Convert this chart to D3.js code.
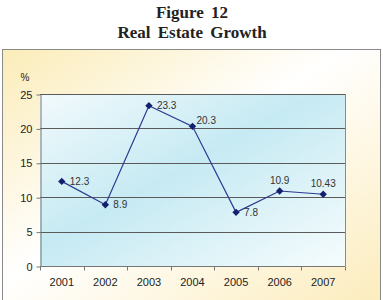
<!DOCTYPE html>
<html lang="en">
<head>
    <meta charset="UTF-8">
    <title>real-estate-growth</title>
    <script src="https://cdn.jsdelivr.net/npm/d3@7.8.5/dist/d3.min.js"></script>
    <style>
        body { margin: 0; background: #fff; }
    </style>
</head>
<body>
<div id="container"></div>
<script>
    const years = ["2001", "2002", "2003", "2004", "2005", "2006", "2007"];
    const growth = [12.3, 8.9, 23.3, 20.3, 7.8, 10.9, 10.43];
    const growthLabels = ["12.3", "8.9", "23.3", "20.3", "7.8", "10.9", "10.43"];
    const yTicks = [0, 5, 10, 15, 20, 25];

    // label placement per point (Excel style)
    const labelPlace = ["right", "right", "right", "upright", "right", "above", "above"];

    const width = 383, height = 300;
    const plot = {left: 40, top: 94, right: 345, bottom: 266};

    const svg = d3.select("#container").append("svg")
        .attr("width", width)
        .attr("height", height);

    const defs = svg.append("defs");
    const outerGrad = defs.append("linearGradient")
        .attr("id", "outerGrad")
        .attr("x1", "0").attr("y1", "0").attr("x2", "1").attr("y2", "1");
    outerGrad.append("stop").attr("offset", "0").attr("stop-color", "#fbecb8");
    outerGrad.append("stop").attr("offset", "0.45").attr("stop-color", "#ffffff");
    outerGrad.append("stop").attr("offset", "1").attr("stop-color", "#fcecbb");

    const plotGrad = defs.append("linearGradient")
        .attr("id", "plotGrad")
        .attr("x1", "0").attr("y1", "0").attr("x2", "1").attr("y2", "1");
    plotGrad.append("stop").attr("offset", "0").attr("stop-color", "#f2fafc");
    plotGrad.append("stop").attr("offset", "0.45").attr("stop-color", "#c6eaf3");
    plotGrad.append("stop").attr("offset", "1").attr("stop-color", "#f6fcfd");

    // title
    const title = svg.append("g")
        .attr("font-family", "'Liberation Serif', 'Times New Roman', serif")
        .attr("font-weight", "bold")
        .attr("font-size", 17)
        .attr("fill", "#222")
        .attr("text-anchor", "middle")
        .style("word-spacing", "3px");
    title.append("text").attr("x", 192).attr("y", 18).text("Figure 12");
    title.append("text").attr("x", 192).attr("y", 38).text("Real Estate Growth");

    // chart area
    svg.append("rect")
        .attr("x", 2.5).attr("y", 49.5)
        .attr("width", 378).attr("height", 260)
        .attr("fill", "url(#outerGrad)")
        .attr("stroke", "#8a8a8a");

    svg.append("rect")
        .attr("x", plot.left).attr("y", plot.top)
        .attr("width", plot.right - plot.left).attr("height", plot.bottom - plot.top)
        .attr("fill", "url(#plotGrad)");

    const x = d3.scaleBand().domain(years).range([plot.left, plot.right]);
    const y = d3.scaleLinear().domain([0, 25]).range([plot.bottom, plot.top]);

    // gridlines
    svg.append("g").selectAll("line")
        .data(yTicks.filter(d => d > 0))
        .join("line")
        .attr("x1", plot.left).attr("x2", plot.right)
        .attr("y1", d => Math.round(y(d)) + 0.5).attr("y2", d => Math.round(y(d)) + 0.5)
        .attr("stroke", "#5a5a5a");

    // plot border (right)
    svg.append("line")
        .attr("x1", plot.right + 0.5).attr("x2", plot.right + 0.5)
        .attr("y1", plot.top).attr("y2", plot.bottom)
        .attr("stroke", "#8a8a8a");

    // y axis
    const yAxis = svg.append("g")
        .attr("transform", `translate(${plot.left + 0.5},0.5)`)
        .call(d3.axisLeft(y).tickValues(yTicks).tickSize(4).tickSizeOuter(0).tickPadding(4));
    yAxis.selectAll("text")
        .attr("font-family", "'Liberation Sans', Arial, sans-serif")
        .attr("font-size", 11).attr("fill", "#222");
    yAxis.selectAll("line, path").attr("stroke", "#777");

    // x axis: ticks between categories
    const xAxis = svg.append("g")
        .attr("transform", `translate(0,${Math.round(y(0)) + 0.5})`);
    xAxis.append("line")
        .attr("x1", plot.left).attr("x2", plot.right)
        .attr("stroke", "#777");
    xAxis.selectAll(".tk")
        .data(years.concat(["end"]))
        .join("line")
        .attr("class", "tk")
        .attr("x1", (d, i) => Math.round(plot.left + i * x.step()) + 0.5)
        .attr("x2", (d, i) => Math.round(plot.left + i * x.step()) + 0.5)
        .attr("y1", 0).attr("y2", 4)
        .attr("stroke", "#777");
    xAxis.selectAll("text")
        .data(years)
        .join("text")
        .attr("x", d => x(d) + x.bandwidth() / 2)
        .attr("y", 19)
        .attr("text-anchor", "middle")
        .attr("font-family", "'Liberation Sans', Arial, sans-serif")
        .attr("font-size", 11).attr("fill", "#222")
        .text(d => d);

    // unit label
    svg.append("text")
        .attr("x", 25).attr("y", 81)
        .attr("text-anchor", "middle")
        .attr("font-family", "'Liberation Sans', Arial, sans-serif")
        .attr("font-size", 10).attr("fill", "#222")
        .text("%");

    // line
    const cx = (d, i) => x(years[i]) + x.bandwidth() / 2;
    const line = d3.line()
        .x((d, i) => cx(d, i))
        .y(d => y(d));
    svg.append("path")
        .datum(growth)
        .attr("d", line)
        .attr("fill", "none")
        .attr("stroke", "#2a3a8f")
        .attr("stroke-width", 1.2);

    // diamond markers
    svg.append("g").selectAll("path")
        .data(growth)
        .join("path")
        .attr("transform", (d, i) => `translate(${cx(d, i)},${y(d)}) rotate(45)`)
        .attr("d", "M-2.6,-2.6H2.6V2.6H-2.6Z")
        .attr("fill", "#141f6e");

    // data labels
    svg.append("g").selectAll("text")
        .data(growth)
        .join("text")
        .attr("font-family", "'Liberation Sans', Arial, sans-serif")
        .attr("font-size", 10)
        .attr("fill", "#333")
        .attr("text-anchor", (d, i) => labelPlace[i] === "above" ? "middle" : "start")
        .attr("x", (d, i) => {
            const p = labelPlace[i];
            if (p === "above") return cx(d, i);
            if (p === "upright") return cx(d, i) + 4;
            return cx(d, i) + 8;
        })
        .attr("y", (d, i) => {
            const p = labelPlace[i];
            if (p === "above") return y(d) - 7;
            if (p === "upright") return y(d) - 2;
            return y(d) + 3.5;
        })
        .text((d, i) => growthLabels[i]);
</script>
</body>
</html>
